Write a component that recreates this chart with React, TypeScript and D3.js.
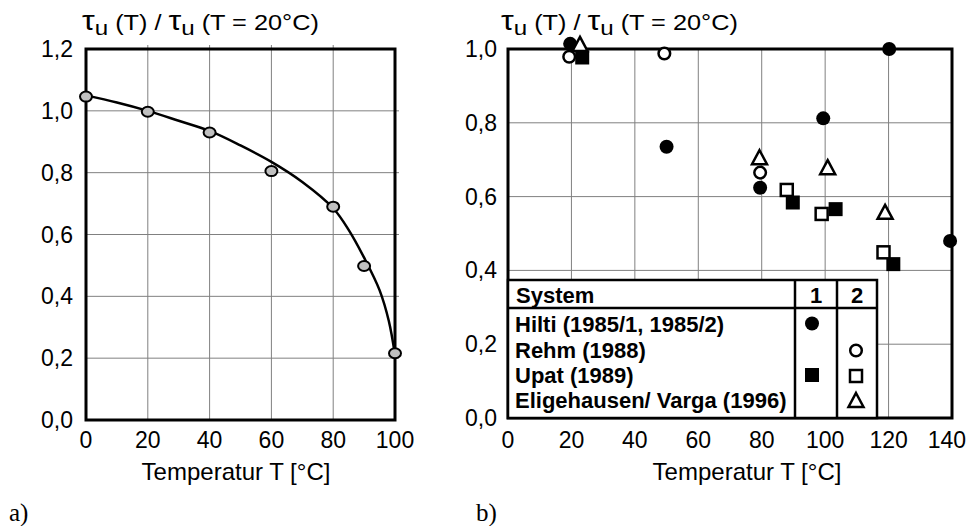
import React from 'react';
import * as d3 from 'd3';

const W = 968;
const H = 526;

// ---- Chart a) ----
const leftXTicks = [0, 20, 40, 60, 80, 100];
const leftYTicks = [0, 0.2, 0.4, 0.6, 0.8, 1.0, 1.2];
const leftYLabels = ['0,0', '0,2', '0,4', '0,6', '0,8', '1,0', '1,2'];
const measT = [0, 20, 40, 60, 80, 90, 100];
const measRatio = [1.046, 0.997, 0.93, 0.805, 0.69, 0.498, 0.216];
const fitT = [0, 10, 20, 30, 40, 50, 60, 70, 80, 85, 90, 95, 98, 100];
const fitRatio = [1.05, 1.027, 1.0, 0.968, 0.935, 0.888, 0.835, 0.77, 0.685, 0.615, 0.525, 0.42, 0.32, 0.21];

// ---- Chart b) ----
const rightXTicks = [0, 20, 40, 60, 80, 100, 120, 140];
const rightYTicks = [0, 0.2, 0.4, 0.6, 0.8, 1.0];
const rightYLabels = ['0,0', '0,2', '0,4', '0,6', '0,8', '1,0'];
const hiltiT = [19.6, 50, 79.5, 99.4, 120.2, 139.4];
const hiltiV = [1.014, 0.735, 0.624, 0.812, 1.0, 0.48];
const rehmT = [19.3, 49.3, 79.5];
const rehmV = [0.979, 0.988, 0.665];
const upat1T = [23.4, 89.8, 103.3, 121.5];
const upat1V = [0.977, 0.584, 0.566, 0.417];
const upat2T = [87.9, 98.9, 118.4];
const upat2V = [0.618, 0.553, 0.449];
const eligT = [22.7, 79.3, 100.8, 118.9];
const eligV = [1.011, 0.704, 0.677, 0.556];

const legendNames = ['Hilti (1985/1, 1985/2)', 'Rehm (1988)', 'Upat (1989)', 'Eligehausen/ Varga (1996)'];
const legendSys1 = ['fcircle', '', 'fsquare', ''];
const legendSys2 = ['', 'ocircle', 'osquare', 'otriangle'];

const SANS = '"Liberation Sans", Arial, sans-serif';
const SERIF = '"Liberation Serif", "Times New Roman", serif';

function Marker({ kind, x, y }: { kind: string; x: number; y: number }) {
  if (kind === 'fcircle') return <circle cx={x} cy={y} r={7} fill="#000" />;
  if (kind === 'ocircle') return <circle cx={x} cy={y} r={5.8} fill="#fff" stroke="#000" strokeWidth={2.5} />;
  if (kind === 'fsquare') return <rect x={x - 7} y={y - 7} width={14} height={14} fill="#000" />;
  if (kind === 'osquare') return <rect x={x - 6} y={y - 6} width={12} height={12} fill="#fff" stroke="#000" strokeWidth={2.5} />;
  if (kind === 'otriangle')
    return (
      <path
        d={`M${x},${y - 8}L${x + 7.5},${y + 6}L${x - 7.5},${y + 6}Z`}
        fill="#fff"
        stroke="#000"
        strokeWidth={2.5}
        strokeLinejoin="miter"
      />
    );
  return null;
}

function Title({ x, y }: { x: number; y: number }) {
  return (
    <g transform={`translate(${x},${y}) scale(1.15,1)`}>
      <text x={0} y={0} fontFamily={SANS} fontSize={22} fill="#000">
        <tspan fontSize={28}>τ</tspan>
        <tspan fontSize={21} dy={5}>u</tspan>
        <tspan dy={-5}>{' (T) / '}</tspan>
        <tspan fontSize={28}>τ</tspan>
        <tspan fontSize={21} dy={5}>u</tspan>
        <tspan dy={-5}>{' (T = 20°C)'}</tspan>
      </text>
    </g>
  );
}

export default function App() {
  // left scales
  const lx = d3.scaleLinear().domain([0, 100]).range([86, 395]);
  const ly = d3.scaleLinear().domain([0, 1.2]).range([420, 49]);
  // right scales
  const rx = d3.scaleLinear().domain([0, 140]).range([508, 952]);
  const ry = d3.scaleLinear().domain([0, 1.0]).range([418, 49]);

  const fitLine = d3
    .line<number>()
    .x((_, i) => lx(fitT[i]))
    .y((d) => ly(d))
    .curve(d3.curveCatmullRom.alpha(0.5));

  const gridColor = '#808080';

  const legL = rx(0);
  const legR = 877;
  const legT = 280;
  const legB = ry(0);
  const legHead = 308;
  const col1 = 795;
  const col2 = 837;
  const rowBase = [331.5, 357.5, 383, 408];

  return (
    <svg width={W} height={H} style={{ position: 'absolute', left: 0, top: 0, background: '#fff' }}>
      <rect x={0} y={0} width={W} height={H} fill="#fff" />

      {/* ===== Chart a ===== */}
      <Title x={82} y={30} />
      {leftXTicks.slice(1, -1).map((t) => (
        <line key={'lgx' + t} x1={lx(t)} x2={lx(t)} y1={ly(1.2) - 4} y2={ly(0)} stroke={gridColor} strokeWidth={1} />
      ))}
      {leftYTicks.slice(1, -1).map((t) => (
        <line key={'lgy' + t} x1={lx(0)} x2={lx(100) + 4} y1={ly(t)} y2={ly(t)} stroke={gridColor} strokeWidth={1} />
      ))}
      <rect x={lx(0)} y={ly(1.2)} width={lx(100) - lx(0)} height={ly(0) - ly(1.2)} fill="none" stroke="#000" strokeWidth={3} />
      <path d={fitLine(fitRatio) || ''} fill="none" stroke="#000" strokeWidth={2.5} />
      {measT.map((t, i) => (
        <ellipse key={'m' + t} cx={lx(t)} cy={ly(measRatio[i])} rx={6} ry={5} fill="#c0c0c0" stroke="#000" strokeWidth={2} />
      ))}
      {leftYTicks.map((t, i) => (
        <text key={'lyt' + t} x={73} y={ly(t) + 8} textAnchor="end" fontFamily={SANS} fontSize={23}>
          {leftYLabels[i]}
        </text>
      ))}
      {leftXTicks.map((t) => (
        <text key={'lxt' + t} x={lx(t)} y={448} textAnchor="middle" fontFamily={SANS} fontSize={23}>
          {t}
        </text>
      ))}
      <text x={236} y={480} textAnchor="middle" fontFamily={SANS} fontSize={24}>
        Temperatur T [°C]
      </text>
      <text x={9} y={521} fontFamily={SERIF} fontSize={25}>
        a)
      </text>

      {/* ===== Chart b ===== */}
      <Title x={501} y={30} />
      {rightXTicks.slice(1, -1).map((t) => (
        <line key={'rgx' + t} x1={rx(t)} x2={rx(t)} y1={ry(1)} y2={ry(0)} stroke={gridColor} strokeWidth={1} />
      ))}
      {rightYTicks.slice(1, -1).map((t) => (
        <line key={'rgy' + t} x1={rx(0)} x2={rx(140)} y1={ry(t)} y2={ry(t)} stroke={gridColor} strokeWidth={1} />
      ))}
      <rect x={rx(0)} y={ry(1)} width={rx(140) - rx(0)} height={ry(0) - ry(1)} fill="none" stroke="#000" strokeWidth={3} />

      {/* legend table */}
      <rect x={legL} y={legT} width={legR - legL} height={legB - legT} fill="#fff" stroke="#000" strokeWidth={2.5} />
      <line x1={legL} x2={legR} y1={legHead} y2={legHead} stroke="#000" strokeWidth={2.5} />
      <line x1={col1} x2={col1} y1={legT} y2={legB} stroke="#000" strokeWidth={2.5} />
      <line x1={col2} x2={col2} y1={legT} y2={legB} stroke="#000" strokeWidth={2.5} />
      <text x={516} y={303} fontFamily={SANS} fontWeight="bold" fontSize={22}>System</text>
      <text x={(col1 + col2) / 2} y={303} textAnchor="middle" fontFamily={SANS} fontWeight="bold" fontSize={22}>1</text>
      <text x={(col2 + legR) / 2} y={303} textAnchor="middle" fontFamily={SANS} fontWeight="bold" fontSize={22}>2</text>
      {legendNames.map((n, i) => (
        <g key={'leg' + i}>
          <text x={515} y={rowBase[i]} fontFamily={SANS} fontWeight="bold" fontSize={22}>
            {n}
          </text>
          <Marker kind={legendSys1[i]} x={(col1 + col2) / 2 - 4} y={rowBase[i] - 8} />
          <Marker kind={legendSys2[i]} x={(col2 + legR) / 2 - 1} y={rowBase[i] - 7} />
        </g>
      ))}

      {/* data */}
      {hiltiT.map((t, i) => (
        <Marker key={'h' + i} kind="fcircle" x={rx(t)} y={ry(hiltiV[i])} />
      ))}
      {upat1T.map((t, i) => (
        <Marker key={'u1' + i} kind="fsquare" x={rx(t)} y={ry(upat1V[i])} />
      ))}
      {upat2T.map((t, i) => (
        <Marker key={'u2' + i} kind="osquare" x={rx(t)} y={ry(upat2V[i])} />
      ))}
      {rehmT.map((t, i) => (
        <Marker key={'r' + i} kind="ocircle" x={rx(t)} y={ry(rehmV[i])} />
      ))}
      {eligT.map((t, i) => (
        <Marker key={'e' + i} kind="otriangle" x={rx(t)} y={ry(eligV[i])} />
      ))}

      {rightYTicks.map((t, i) => (
        <text key={'ryt' + t} x={497} y={ry(t) + 8} textAnchor="end" fontFamily={SANS} fontSize={23}>
          {rightYLabels[i]}
        </text>
      ))}
      {rightXTicks.map((t, i) => {
        const last = i === rightXTicks.length - 1;
        return (
          <text
            key={'rxt' + t}
            x={last ? 966 : rx(t)}
            y={448}
            textAnchor={last ? 'end' : 'middle'}
            fontFamily={SANS}
            fontSize={23}
          >
            {t}
          </text>
        );
      })}
      <text x={747} y={480} textAnchor="middle" fontFamily={SANS} fontSize={24}>
        Temperatur T [°C]
      </text>
      <text x={476} y={521} fontFamily={SERIF} fontSize={25}>
        b)
      </text>
    </svg>
  );
}
